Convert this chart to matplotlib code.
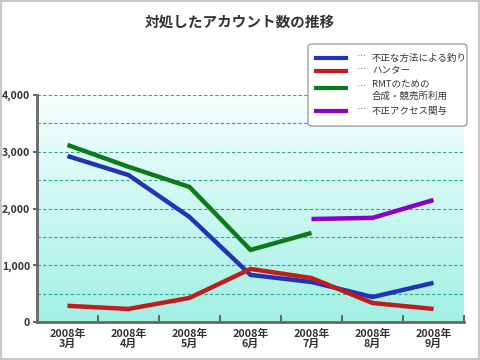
import numpy as np
import matplotlib
matplotlib.use("Agg")
import matplotlib.pyplot as plt
from matplotlib.lines import Line2D
from matplotlib.patches import FancyBboxPatch, Rectangle
from matplotlib.colors import LinearSegmentedColormap

plt.rcParams['font.family'] = ['Noto Sans CJK JP', 'DejaVu Sans']

title = "対処したアカウント数の推移"
months = ["2008年\n3月", "2008年\n4月", "2008年\n5月", "2008年\n6月",
          "2008年\n7月", "2008年\n8月", "2008年\n9月"]
fishing = [2925, 2590, 1850, 830, 705, 440, 690]
hunter = [285, 230, 425, 935, 775, 335, 230]
rmt = [3120, 2735, 2380, 1270, 1570, None, None]
illegal = [None, None, None, None, 1815, 1835, 2150]
series_labels = ["不正な方法による釣り", "ハンター", "RMTのための\n合成・競売所利用", "不正アクセス関与"]
colors = ["#2233bb", "#c01c1c", "#0a7a1a", "#8a00cc"]
yticks = [0, 1000, 2000, 3000, 4000]
ytick_labels = ["0", "1,000", "2,000", "3,000", "4,000"]

fig = plt.figure(figsize=(4.8, 3.6), dpi=100)
fig.patches.append(Rectangle((0.002, 0.003), 0.995, 0.993, transform=fig.transFigure,
                             fill=False, edgecolor="#c8c8c8", linewidth=1.5))
ax = fig.add_axes([37/480, 1-322/360, (464-37)/480, (322-95)/360])

x = np.arange(len(months))
ax.set_xlim(-0.5, len(months)-0.5)
ax.set_ylim(0, 4000)

grad = np.linspace(0, 1, 256).reshape(-1, 1)
cmap = LinearSegmentedColormap.from_list("bg", ["#f6fffe", "#a2f0e4"])
ax.imshow(grad, aspect="auto", cmap=cmap, extent=[-0.5, len(months)-0.5, 0, 4000],
          origin="upper", zorder=0)

for gy in range(500, 4001, 500):
    ax.axhline(gy, color="#2aa888", linewidth=0.8, linestyle=(0, (3, 2)), zorder=1)

def arr(v):
    return np.array([np.nan if a is None else a for a in v], dtype=float)

for data, c in zip([fishing, hunter, rmt, illegal], colors):
    ax.plot(x, arr(data), color=c, linewidth=3.2, solid_capstyle="butt",
            solid_joinstyle="miter", zorder=3)

for s in ["top", "right"]:
    ax.spines[s].set_visible(False)
for s in ["left", "bottom"]:
    ax.spines[s].set_color("#666666")
    ax.spines[s].set_linewidth(2)

ax.set_yticks(yticks)
ax.set_yticklabels(ytick_labels, fontsize=7.5, color="#333333", fontweight="bold")
ax.tick_params(axis="y", length=3, width=1.5, color="#666666", pad=2)
ax.set_xticks(x)
ax.set_xticklabels(months, fontsize=7.8, color="#333333", fontweight="bold", linespacing=1.0)
ax.tick_params(axis="x", which="major", length=0, pad=5)
ax.set_xticks(np.arange(0.5, len(months)-0.5+0.01, 1), minor=True)
ax.tick_params(axis="x", which="minor", length=5, width=1.5, color="#666666", direction="in")

fig.text(0.5, 1-22/360, title, ha="center", va="center", fontsize=10.5,
         fontweight="bold", color="#333333")

lx0, ly0, lx1, ly1 = 308, 44, 467, 126
fig.patches.append(FancyBboxPatch((lx0/480, 1-ly1/360), (lx1-lx0)/480, (ly1-ly0)/360,
                                  boxstyle="round,pad=0,rounding_size=0.008",
                                  transform=fig.transFigure, facecolor="white",
                                  edgecolor="#888888", linewidth=0.8, zorder=5))
ys = [58, 71, 88, 111]
for lbl, c, yy in zip(series_labels, colors, ys):
    fig.add_artist(Line2D([316/480, 346/480], [1-yy/360, 1-yy/360], color=c,
                          linewidth=3, transform=fig.transFigure, zorder=6))
    fig.text(356/480, 1-(yy-1)/360, "…", ha="left", va="center", fontsize=6.5,
             color="#333333", zorder=6)
    lines = lbl.split("\n")
    if len(lines) == 1:
        fig.text(372/480, 1-yy/360, lbl, ha="left", va="center", fontsize=6.8,
                 color="#333333", zorder=6)
    else:
        fig.text(372/480, 1-(yy-3)/360, lines[0], ha="left", va="center", fontsize=6.8,
                 color="#333333", zorder=6)
        fig.text(372/480, 1-(yy+8)/360, lines[1], ha="left", va="center", fontsize=6.8,
                 color="#333333", zorder=6)

fig.savefig("out.png", dpi=100)
